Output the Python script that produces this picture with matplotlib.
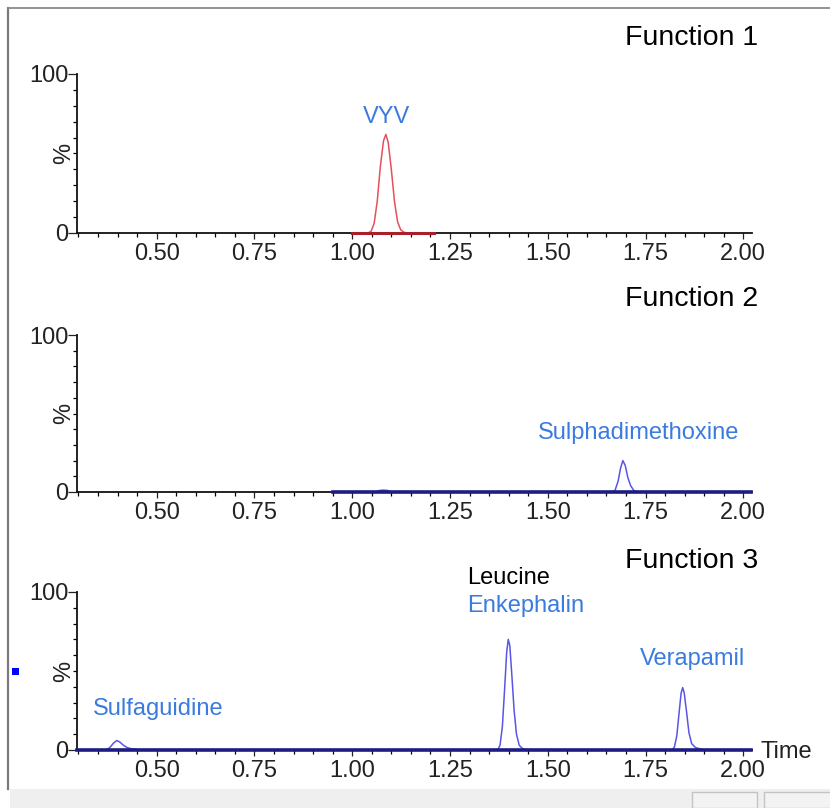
import matplotlib
matplotlib.use("Agg")
import matplotlib.pyplot as plt
from matplotlib.patches import Rectangle
from matplotlib.lines import Line2D
from matplotlib.ticker import MultipleLocator, FixedLocator

plt.rcParams['font.family'] = ['Liberation Sans', 'DejaVu Sans']

# =========================
# Data
# =========================
# Function 1 - VYV
t1 = [1.000, 1.040, 1.048, 1.056, 1.064, 1.072, 1.080, 1.086, 1.092, 1.100,
      1.108, 1.116, 1.124, 1.132, 1.140, 1.210]
i1 = [0, 0, 1, 6, 20, 42, 58, 62, 57, 40, 20, 7, 2, 0.5, 0, 0]

# Function 2 - Sulphadimethoxine
t2 = [0.950, 1.060, 1.070, 1.080, 1.090, 1.100, 1.665, 1.672, 1.680, 1.686,
      1.692, 1.698, 1.705, 1.712, 1.720, 1.730, 2.020]
i2 = [0, 0, 1, 1.2, 1, 0, 0, 1, 7, 15, 20, 17, 9, 4, 1, 0, 0]

# Function 3 - Sulfaguidine, Leucine Enkephalin, Verapamil
t3 = [0.297, 0.370, 0.380, 0.390, 0.398, 0.406, 0.415, 0.425, 0.435, 0.445, 0.455,
      1.372, 1.378, 1.384, 1.390, 1.395, 1.399, 1.403, 1.408, 1.414, 1.420, 1.427, 1.435, 1.445,
      1.818, 1.824, 1.830, 1.836, 1.841, 1.845, 1.849, 1.855, 1.861, 1.868, 1.878, 1.890, 1.900,
      2.020]
i3 = [0, 0, 1.5, 4.5, 6, 5, 3, 1.5, 0.8, 0.5, 0,
      0, 3, 15, 40, 62, 70, 66, 48, 25, 10, 3, 1, 0,
      0, 2, 9, 24, 36, 39.5, 36, 24, 11, 4, 1.5, 0.7, 0,
      0]

function_titles = ["Function 1", "Function 2", "Function 3"]

# peak labels: (panel, text, x, y, colour, ha)
peak_labels = [
    (0, "VYV", 1.087, 73, "blue", "center"),
    (1, "Sulphadimethoxine", 1.731, 37.5, "blue", "center"),
    (2, "Sulfaguidine", 0.503, 26, "blue", "center"),
    (2, "Leucine", 1.293, 109, "black", "left"),
    (2, "Enkephalin", 1.293, 91, "blue", "left"),
    (2, "Verapamil", 1.869, 57.5, "blue", "center"),
]

x_ticks = [0.50, 0.75, 1.00, 1.25, 1.50, 1.75, 2.00]

# =========================
# Style
# =========================
W, H = 830, 808
LBL_BLUE = "#3a7be0"
RED = "#e5505a"
DARK_RED = "#a8202c"
PEAK_BLUE = "#5a55e6"
NAVY = "#1c1c84"
XMIN, XMAX = 0.297, 2.0215


def px(x, y):
    return x / W, 1 - y / H


fig = plt.figure(figsize=(W / 100, H / 100), dpi=100)

# window frame bits
fig.add_artist(Rectangle(px(10, 808), (W - 10) / W, 19 / H, transform=fig.transFigure,
                         facecolor="#efefef", edgecolor="none"))
for x0, x1 in [(692, 757), (764, 832)]:
    fig.add_artist(Rectangle(px(x0, 808), (x1 - x0) / W, 16 / H, transform=fig.transFigure,
                             facecolor="#f3f3f3", edgecolor="#c4c4c4", lw=1))
fig.add_artist(Line2D([8 / W, 8 / W], [1 - 8 / H, 1 - 789 / H], transform=fig.transFigure,
                      color="#7a7a7a", lw=1.6))
fig.add_artist(Line2D([8 / W, 1], [1 - 8 / H, 1 - 8 / H], transform=fig.transFigure,
                      color="#8a8a8a", lw=1.3))
fig.add_artist(Rectangle(px(12, 675), 7 / W, 7 / H, transform=fig.transFigure,
                         facecolor="#0000ff", edgecolor="none"))

# axes: (top pixel of 100, bottom pixel of 0)
panels = [(74, 233), (335, 492), (592, 750)]
title_y = [38, 299, 561]
axes = []
for top, bot in panels:
    l, b = px(77.3, bot)
    ax = fig.add_axes([l, b, (751.7 - 77.3) / W, (bot - top) / H])
    ax.set_xlim(XMIN, XMAX)
    ax.set_ylim(0, 100)
    for s in ["top", "right"]:
        ax.spines[s].set_visible(False)
    for s in ["left", "bottom"]:
        ax.spines[s].set_linewidth(1.3)
        ax.spines[s].set_color("#111111")
    ax.xaxis.set_major_locator(FixedLocator(x_ticks))
    ax.set_xticklabels([f"{v:.2f}" for v in x_ticks])
    ax.xaxis.set_minor_locator(MultipleLocator(0.05))
    ax.yaxis.set_major_locator(FixedLocator([0, 100]))
    ax.set_yticklabels(["0", "100"])
    ax.yaxis.set_minor_locator(MultipleLocator(10))
    ax.tick_params(axis="x", which="major", length=4.5, width=0.9, pad=3, labelsize=17,
                   colors="#222222")
    ax.tick_params(axis="x", which="minor", length=3, width=0.9)
    ax.tick_params(axis="y", which="major", length=6.5, width=0.9, pad=0, labelsize=17,
                   colors="#222222")
    ax.tick_params(axis="y", which="minor", length=3, width=0.9)
    ax.text(-0.02, 0.5, "%", rotation=90, transform=ax.transAxes, ha="center",
            va="center", fontsize=17, color="#222222")
    axes.append(ax)

# traces (baseline drawn on top, as in the original where it merges with the axis)
axes[0].plot(t1, i1, color=RED, lw=1.1, zorder=3, clip_on=False)
axes[0].plot([t1[0], t1[-1]], [0, 0], color=DARK_RED, lw=2.2, zorder=4, clip_on=False)

axes[1].plot(t2, i2, color=PEAK_BLUE, lw=1.1, zorder=3, clip_on=False)
axes[1].plot([t2[0], t2[-1]], [0, 0], color=NAVY, lw=2.6, zorder=4, clip_on=False)

axes[2].plot(t3, i3, color=PEAK_BLUE, lw=1.1, zorder=3, clip_on=False)
axes[2].plot([t3[0], t3[-1]], [0, 0], color=NAVY, lw=2.6, zorder=4, clip_on=False)

# labels
for k, ttl in enumerate(function_titles):
    fig.text(758 / W, 1 - title_y[k] / H, ttl, ha="right", va="center", fontsize=20.5,
             color="black")

for k, txt, x, y, col, ha in peak_labels:
    axes[k].text(x, y, txt, ha=ha, va="center", fontsize=17,
                 color=LBL_BLUE if col == "blue" else "black", clip_on=False)

axes[2].text(1.013, -0.01, "Time", transform=axes[2].transAxes, ha="left", va="center",
             fontsize=17, color="#222222")

fig.savefig("out.png", dpi=100)
plt.close(fig)
